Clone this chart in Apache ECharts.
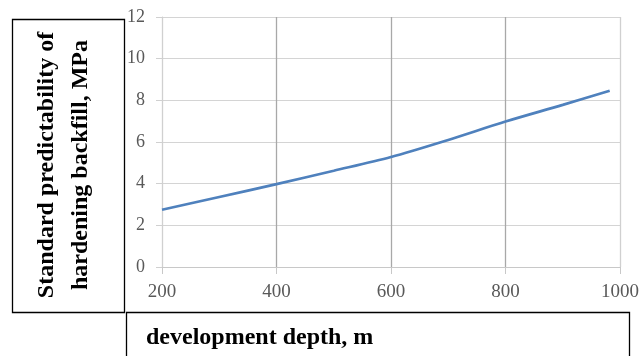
<!DOCTYPE html>
<html>
<head>
<meta charset="utf-8">
<script src="https://cdn.jsdelivr.net/npm/echarts@6/dist/echarts.min.js"></script>
<style>
html,body{margin:0;padding:0;background:#fff;}
#chart{width:643px;height:356px;}
</style>
</head>
<body>
<div id="chart"></div>
<script>
var depths = [200, 300, 400, 500, 600, 700, 800, 900, 982];
var strength = [2.75, 3.36, 3.98, 4.62, 5.28, 6.1, 6.98, 7.78, 8.46];
var xTicks = [200, 400, 600, 800, 1000];
var yTicks = [0, 2, 4, 6, 8, 10, 12];
var yTitle = 'Standard predictability of\nhardening backfill, MPa';
var xTitle = 'development depth, m';

var chart = echarts.init(document.getElementById('chart'), null, {renderer: 'canvas'});
var serif = '"Liberation Serif", "Times New Roman", serif';
chart.setOption({
  animation: false,
  backgroundColor: '#fff',
  grid: {left: 162, right: 23, top: 17, bottom: 89, containLabel: false},
  xAxis: {
    type: 'value', min: xTicks[0], max: xTicks[xTicks.length - 1], interval: 200,
    axisLine: {show: true, lineStyle: {color: '#c8c8c8', width: 1}},
    axisTick: {show: true, length: 7, lineStyle: {color: '#c8c8c8'}},
    axisLabel: {color: '#595959', fontFamily: serif, fontSize: 19, margin: 16,
      formatter: function (v) { return String(v); }},
    splitLine: {show: true, lineStyle: {color: ['#d0d0d0', '#a8a8a8', '#a8a8a8', '#a8a8a8', '#d0d0d0'], width: 1.3}}
  },
  yAxis: {
    type: 'value', min: yTicks[0], max: yTicks[yTicks.length - 1], interval: 2,
    axisLine: {show: true, lineStyle: {color: '#d0d0d0', width: 1}},
    axisTick: {show: true, length: 6, lineStyle: {color: '#d0d0d0'}},
    axisLabel: {color: '#595959', fontFamily: serif, fontSize: 18, margin: 17,
      formatter: function (v) { return String(v); }},
    splitLine: {show: true, lineStyle: {color: '#d4d4d4', width: 1.2}}
  },
  series: [{
    type: 'line',
    data: depths.map(function (d, i) { return [d, strength[i]]; }),
    smooth: 0.3,
    showSymbol: false,
    lineStyle: {color: '#4f81bd', width: 2.7}
  }],
  graphic: [
    {type: 'rect', shape: {x: 12.5, y: 19.5, width: 112, height: 293}, style: {fill: 'none', stroke: '#000', lineWidth: 1.3}, z: 100},
    {type: 'rect', shape: {x: 126.5, y: 312.5, width: 503, height: 60}, style: {fill: 'none', stroke: '#000', lineWidth: 1.3}, z: 100},
    {type: 'text', x: 64, y: 165, rotation: Math.PI / 2, z: 100,
      style: {text: yTitle, fill: '#000', font: 'bold 24px ' + serif, textAlign: 'center', textVerticalAlign: 'middle', lineHeight: 34}},
    {type: 'text', x: 146, y: 338, z: 100,
      style: {text: xTitle, fill: '#000', font: 'bold 24px ' + serif, textAlign: 'left', textVerticalAlign: 'middle'}}
  ]
});
</script>
</body>
</html>
